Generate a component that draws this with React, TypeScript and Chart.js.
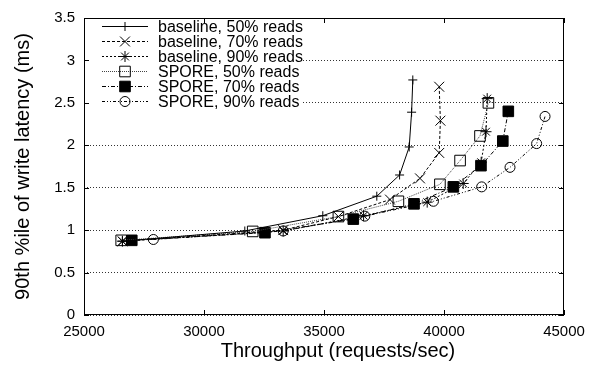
import React, { useEffect, useRef } from "react";
import { Chart, registerables } from "chart.js";

Chart.register(...registerables);

// ---- data ----
const seriesNames = [
  "baseline, 50% reads",
  "baseline, 70% reads",
  "baseline, 90% reads",
  "SPORE, 50% reads",
  "SPORE, 70% reads",
  "SPORE, 90% reads",
];

const baseline50X = [26600, 31700, 34950, 37200, 38150, 38550, 38650, 38700];
const baseline50Y = [0.87, 0.99, 1.17, 1.4, 1.65, 1.98, 2.39, 2.77];

const baseline70X = [26600, 33300, 35600, 37750, 39000, 39800, 39850, 39800];
const baseline70Y = [0.87, 1.0, 1.16, 1.36, 1.61, 1.91, 2.29, 2.69];

const baseline90X = [26600, 33300, 36650, 39300, 40800, 41550, 41750, 41800];
const baseline90Y = [0.87, 0.99, 1.17, 1.33, 1.55, 1.8, 2.16, 2.55];

const spore50X = [26550, 32030, 35600, 38100, 39830, 40670, 41500, 41850];
const spore50Y = [0.88, 0.985, 1.16, 1.34, 1.54, 1.82, 2.11, 2.5];

const spore70X = [26990, 32540, 36220, 38750, 40390, 41540, 42450, 42680];
const spore70Y = [0.88, 0.97, 1.13, 1.31, 1.51, 1.76, 2.05, 2.4];

const spore90X = [27890, 33300, 36700, 39560, 41570, 42750, 43860, 44210];
const spore90Y = [0.89, 0.99, 1.165, 1.34, 1.51, 1.74, 2.02, 2.34];

const xTickLabels = ["25000", "30000", "35000", "40000", "45000"];
const yTickLabels = ["0", "0.5", "1", "1.5", "2", "2.5", "3", "3.5"];

const xTitle = "Throughput (requests/sec)";
const yTitle = "90th %ile of write latency (ms)";

// ---- styles ----
const FONT = "'Liberation Sans', Arial, Helvetica, sans-serif";

type Style = {
  marker: "cross" | "crossRot" | "star" | "rect" | "circle";
  radius: number;
  fill: boolean;
  dash: number[];
  color: string;
};

const styles: Style[] = [
  { marker: "cross", radius: 4.5, fill: false, dash: [], color: "#000" },
  { marker: "crossRot", radius: 7, fill: false, dash: [3, 2], color: "#000" },
  { marker: "star", radius: 5.5, fill: false, dash: [2, 2], color: "#000" },
  { marker: "rect", radius: 7.5, fill: false, dash: [1, 1], color: "#444" },
  { marker: "rect", radius: 7.5, fill: true, dash: [4, 2, 1, 2], color: "#000" },
  { marker: "circle", radius: 5, fill: false, dash: [3, 2, 1, 2, 1, 2], color: "#000" },
];

const xs = [baseline50X, baseline70X, baseline90X, spore50X, spore70X, spore90X];
const ys = [baseline50Y, baseline70Y, baseline90Y, spore50Y, spore70Y, spore90Y];

function drawMarker(ctx: CanvasRenderingContext2D, s: Style, x: number, y: number) {
  const r = s.radius;
  ctx.save();
  ctx.setLineDash([]);
  ctx.lineWidth = 1;
  ctx.strokeStyle = "#000";
  ctx.fillStyle = "#000";
  ctx.beginPath();
  if (s.marker === "cross" || s.marker === "star") {
    ctx.moveTo(x - r, y);
    ctx.lineTo(x + r, y);
    ctx.moveTo(x, y - r);
    ctx.lineTo(x, y + r);
  }
  if (s.marker === "crossRot" || s.marker === "star") {
    const d = r * Math.SQRT1_2;
    ctx.moveTo(x - d, y - d);
    ctx.lineTo(x + d, y + d);
    ctx.moveTo(x - d, y + d);
    ctx.lineTo(x + d, y - d);
  }
  if (s.marker === "rect") {
    const h = r * Math.SQRT1_2;
    ctx.rect(x - h, y - h, 2 * h, 2 * h);
    if (s.fill) ctx.fill();
  }
  if (s.marker === "circle") {
    ctx.arc(x, y, r, 0, Math.PI * 2);
  }
  ctx.stroke();
  ctx.restore();
}

const framePlugin = {
  id: "gnuplotFrame",
  afterDatasetsDraw(chart: any) {
    const ctx: CanvasRenderingContext2D = chart.ctx;
    const { left, right, top, bottom } = chart.chartArea;
    const xScale = chart.scales.x;
    const yScale = chart.scales.y;
    ctx.save();

    // legend box (opaque, like gnuplot key)
    const lx = 85;
    const ly = 14;
    ctx.fillStyle = "#fff";
    ctx.fillRect(lx, ly, 216, 95);
    ctx.font = `16px ${FONT}`;
    ctx.textAlign = "left";
    ctx.textBaseline = "middle";
    seriesNames.forEach((name, i) => {
      const s = styles[i];
      const rowY = 26 + i * 15 + 0.5;
      ctx.save();
      ctx.strokeStyle = s.color;
      ctx.lineWidth = 1;
      ctx.setLineDash(s.dash);
      ctx.beginPath();
      ctx.moveTo(102, rowY);
      ctx.lineTo(148, rowY);
      ctx.stroke();
      ctx.restore();
      drawMarker(ctx, s, 125, rowY);
      ctx.fillStyle = "#000";
      ctx.fillText(name, 158, rowY + 1);
    });

    // frame
    ctx.strokeStyle = "#000";
    ctx.lineWidth = 1;
    ctx.setLineDash([]);
    ctx.strokeRect(left + 0.5, top + 0.5, right - left - 1, bottom - top - 1);

    // inward tick marks
    const tl = 5;
    ctx.beginPath();
    xScale.ticks.forEach((t: any) => {
      const px = Math.round(xScale.getPixelForValue(t.value)) + 0.5;
      ctx.moveTo(px, bottom);
      ctx.lineTo(px, bottom - tl);
      ctx.moveTo(px, top);
      ctx.lineTo(px, top + tl);
    });
    yScale.ticks.forEach((t: any) => {
      const py = Math.round(yScale.getPixelForValue(t.value)) + 0.5;
      ctx.moveTo(left, py);
      ctx.lineTo(left + tl, py);
      ctx.moveTo(right, py);
      ctx.lineTo(right - tl, py);
    });
    ctx.stroke();

    // x-axis title (gnuplot places it slightly right of centre)
    ctx.fillStyle = "#000";
    ctx.font = `20px ${FONT}`;
    ctx.textAlign = "center";
    ctx.textBaseline = "middle";
    ctx.fillText(xTitle, (left + right) / 2 + 14, 351);
    ctx.restore();
  },
};

export default function App() {
  const canvasRef = useRef<HTMLCanvasElement | null>(null);

  useEffect(() => {
    const canvas = canvasRef.current;
    if (!canvas) return;

    const datasets = seriesNames.map((name, i) => {
      const s = styles[i];
      return {
        label: name,
        data: xs[i].map((x, j) => ({ x, y: ys[i][j] })),
        showLine: true,
        borderColor: s.color,
        borderWidth: 1,
        borderDash: s.dash,
        tension: 0,
        pointStyle: s.marker,
        pointRadius: s.radius,
        pointHoverRadius: s.radius,
        pointBorderColor: "#000",
        pointBorderWidth: 1,
        pointBackgroundColor: s.fill ? "#000" : "rgba(0,0,0,0)",
      };
    });

    const chart = new Chart(canvas, {
      type: "scatter",
      data: { datasets },
      plugins: [framePlugin],
      options: {
        animation: false,
        responsive: false,
        maintainAspectRatio: false,
        layout: { padding: { top: 13, right: 32, left: 0, bottom: 0 } },
        plugins: {
          legend: { display: false },
          tooltip: { enabled: false },
        },
        scales: {
          x: {
            type: "linear",
            min: 25000,
            max: 45000,
            afterFit: (scale: any) => {
              scale.height = 54;
            },
            ticks: {
              stepSize: 5000,
              color: "#000",
              font: { family: FONT, size: 15 },
              padding: 8,
              maxRotation: 0,
              callback: (_v: any, i: number) => xTickLabels[i],
            },
            grid: { display: false, drawTicks: false },
            border: { display: false },
            title: { display: false },
          },
          y: {
            type: "linear",
            min: 0,
            max: 3.5,
            afterFit: (scale: any) => {
              scale.width = 84;
            },
            ticks: {
              stepSize: 0.5,
              color: "#000",
              font: { family: FONT, size: 15 },
              padding: 9,
              callback: (_v: any, i: number) => yTickLabels[i],
            },
            grid: {
              display: true,
              drawTicks: false,
              color: "#333",
              lineWidth: 1,
            },
            border: { display: false, dash: [1, 2] },
            title: {
              display: true,
              text: yTitle,
              color: "#000",
              font: { family: FONT, size: 20 },
              padding: { top: 11, bottom: 0 },
            },
          },
        },
      },
    } as any);

    return () => chart.destroy();
  }, []);

  return (
    <div style={{ position: "fixed", left: 0, top: 0, width: 596, height: 369, background: "#fff" }}>
      <canvas ref={canvasRef} width={596} height={369} style={{ display: "block" }} />
    </div>
  );
}
